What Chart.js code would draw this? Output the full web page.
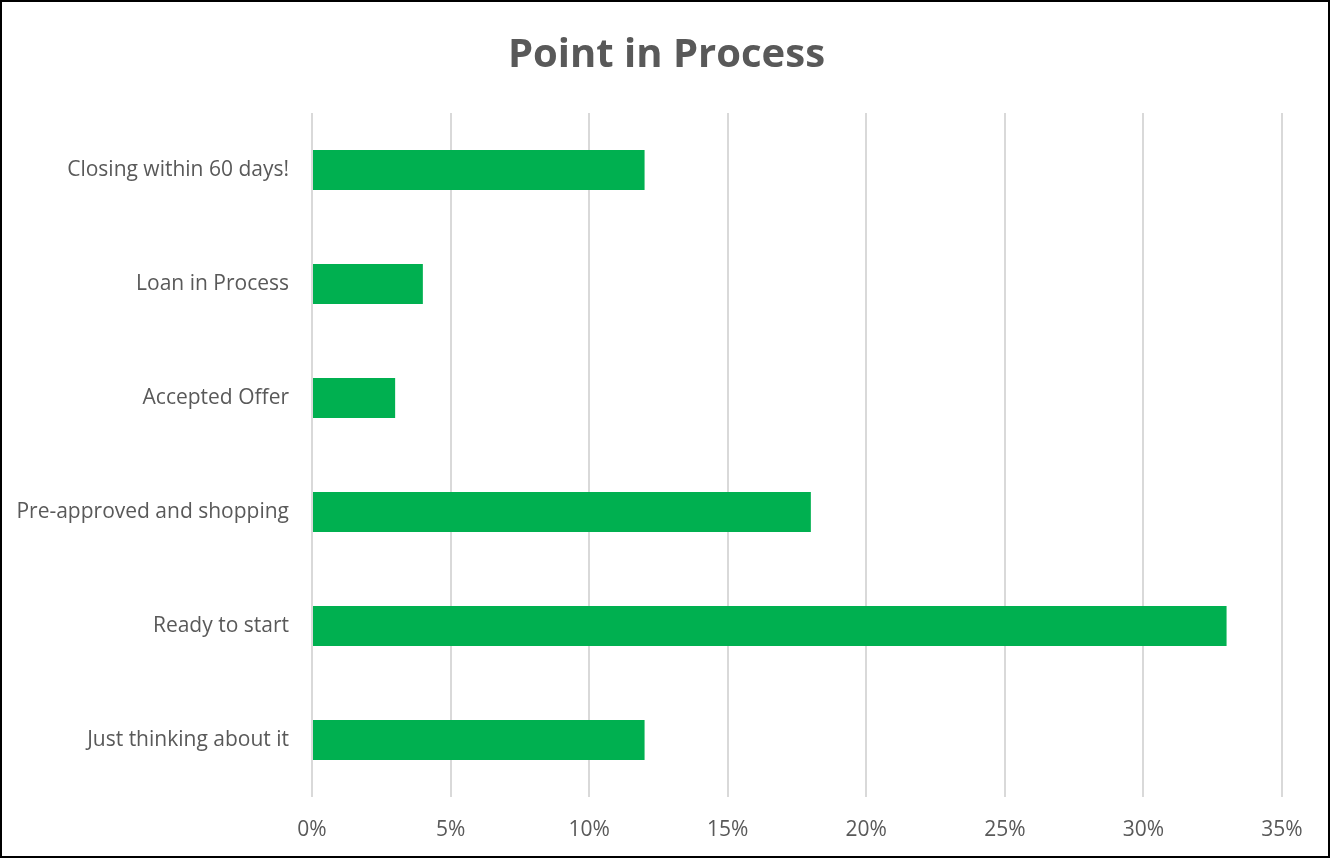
<!DOCTYPE html>
<html>
<head>
<meta charset="utf-8">
<script src="https://cdn.jsdelivr.net/npm/chart.js@4/dist/chart.umd.min.js"></script>
<style>
  html, body { margin: 0; padding: 0; background: #fff; }
  #wrap { position: relative; width: 1333px; height: 860px; }
  #frame { position: absolute; left: 0; top: 0; width: 1330px; height: 858px; border: 2px solid #000; box-sizing: border-box; pointer-events: none; }
  canvas { position: absolute; left: 0; top: 0; }
</style>
</head>
<body>
<div id="wrap">
  <canvas id="c" width="1333" height="860"></canvas>
  <div id="frame"></div>
</div>
<script>
const categories = [
  "Closing within 60 days!",
  "Loan in Process",
  "Accepted Offer",
  "Pre-approved and shopping",
  "Ready to start",
  "Just thinking about it"
];
const values = [12, 4, 3, 18, 33, 12];
const xTicks = [0, 5, 10, 15, 20, 25, 30, 35];
const chartTitle = "Point in Process";

const FONT = "'Open Sans', 'Liberation Sans', sans-serif";
const TEXT = "#595959";

new Chart(document.getElementById("c"), {
  type: "bar",
  data: {
    labels: categories,
    datasets: [{
      data: values,
      backgroundColor: "#00B050",
      borderWidth: 0,
      categoryPercentage: 1,
      barPercentage: 0.35
    }]
  },
  options: {
    indexAxis: "y",
    responsive: false,
    animation: false,
    layout: { padding: 0 },
    plugins: {
      legend: { display: false },
      tooltip: { enabled: false },
      title: {
        display: true,
        text: chartTitle,
        color: TEXT,
        font: { family: FONT, size: 40, weight: "bold" },
        padding: { top: 32, bottom: 33 }
      }
    },
    scales: {
      x: {
        min: 0,
        max: 35,
        afterBuildTicks: (axis) => { axis.ticks = xTicks.map(v => ({ value: v })); },
        afterFit: (axis) => { axis.height = 63; },
        ticks: {
          color: TEXT,
          font: { family: FONT, size: 21 },
          padding: 20,
          maxRotation: 0,
          callback: (v) => v + "%"
        },
        grid: { color: "#d9d9d9", lineWidth: 2, drawTicks: false },
        border: { display: false }
      },
      y: {
        afterFit: (axis) => { axis.width = 312; },
        ticks: {
          color: TEXT,
          font: { family: FONT, size: 21 },
          padding: 23
        },
        grid: { display: false, drawTicks: false },
        border: { display: false }
      },
      yRight: {
        axis: "y",
        type: "category",
        position: "right",
        afterFit: (axis) => { axis.width = 51; },
        ticks: { display: false },
        grid: { display: false, drawTicks: false },
        border: { display: false }
      }
    }
  }
});
</script>
</body>
</html>
